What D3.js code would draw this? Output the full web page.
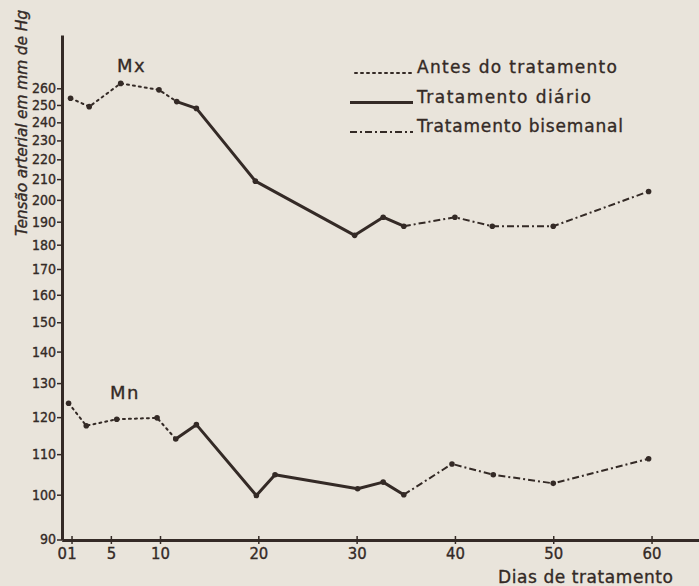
<!DOCTYPE html>
<html>
<head>
<meta charset="utf-8">
<script src="https://cdn.jsdelivr.net/npm/d3@7"></script>
<style>
  body { margin: 0; background: #e9e4db; }
  svg { display: block; }
  text { fill: #342a26; stroke: #342a26; stroke-width: 0.35px; font-family: "DejaVu Sans", sans-serif; }
  .tick text { font-family: "DejaVu Sans Condensed", "DejaVu Sans", sans-serif; }
</style>
</head>
<body>
<div class="chart"></div>
<script>
// days and pressure values (mm Hg)
const mxDays = [0.9, 2.8, 6, 9.9, 11.7, 13.7, 19.7, 29.8, 32.7, 34.8, 40, 43.8, 50, 59.7];
const mxValues = [254, 249, 263, 259, 252, 248, 209, 184, 192, 188, 192, 188, 188, 204];
const mnDays = [0.7, 2.5, 5.6, 9.7, 11.6, 13.7, 19.8, 21.7, 30.1, 32.7, 34.8, 39.7, 43.9, 50, 59.7];
const mnValues = [124, 117.6, 119.4, 119.8, 114, 117.9, 99.8, 104.8, 101.4, 103, 100, 107.5, 104.8, 102.7, 108.8];
// index ranges of each phase: antes / diario / bisemanal
const mxPhases = [[0, 4], [4, 9], [9, 13]];
const mnPhases = [[0, 4], [4, 10], [10, 14]];

const yTicks = [90, 100, 110, 120, 130, 140, 150, 160, 170, 180, 190, 200, 210, 220, 230, 240, 250, 260];
const xTicks = [0, 1, 5, 10, 20, 30, 40, 50, 60];
const legendKeys = ["Antes do tratamento", "Tratamento diário", "Tratamento bisemanal"];
const legendWidths = [200, 174, 206];

const ink = "#342a26";
const width = 699, height = 586;
const dashes = ["2,4", null, "7,3,2,3"];

const svg = d3.select(".chart").append("svg")
    .attr("width", width)
    .attr("height", height);

const xScale = d3.scaleLinear().domain([0, 65]).range([61.7, 700.7]);
const yScale = d3.scaleLog().domain([90, 294.7]).range([539.5, 35]);

// y axis
const yAxis = svg.append("g")
    .attr("transform", "translate(62,0)")
    .call(d3.axisLeft(yScale).tickValues(yTicks).tickSizeInner(5).tickSizeOuter(0).tickPadding(1).tickFormat(d3.format("d")));
yAxis.select(".domain").attr("stroke", ink).attr("stroke-width", 3);
yAxis.selectAll(".tick line").attr("stroke", ink).attr("stroke-width", 1.5);
yAxis.selectAll(".tick text").style("font-size", "14px").attr("fill", ink);

// x axis
const xAxis = svg.append("g")
    .attr("transform", "translate(0,540)")
    .call(d3.axisBottom(xScale).tickValues(xTicks).tickSizeInner(4).tickSizeOuter(0).tickPadding(3));
xAxis.select(".domain").attr("stroke", ink).attr("stroke-width", 3);
xAxis.selectAll(".tick line").attr("stroke", ink).attr("stroke-width", 1.5)
    .attr("y1", -4)
    .attr("display", d => d === 0 ? "none" : null);
xAxis.selectAll(".tick text").style("font-size", "16.5px").attr("fill", ink);

// axis titles
svg.append("text")
    .attr("transform", "translate(27,236) rotate(-90)")
    .style("font-size", "15.5px")
    .style("font-style", "italic")
    .attr("textLength", 226)
    .text("Tensão arterial em  mm de Hg");

svg.append("text")
    .attr("x", 498).attr("y", 583)
    .style("font-size", "17px")
    .attr("textLength", 175)
    .text("Dias de tratamento");

// series
const line = d3.line()
    .x(d => xScale(d.x))
    .y(d => yScale(d.y));

function drawSeries(days, values, phases) {
    const pts = days.map((d, i) => ({ x: d, y: values[i] }));
    phases.forEach((p, k) => {
        svg.append("path")
            .datum(pts.slice(p[0], p[1] + 1))
            .attr("d", line)
            .attr("fill", "none")
            .attr("stroke", ink)
            .attr("stroke-width", k === 1 ? 3 : 2)
            .attr("stroke-linecap", k === 0 ? "round" : "butt")
            .attr("stroke-linejoin", "round")
            .attr("stroke-dasharray", dashes[k]);
    });
    svg.append("g").selectAll("circle")
        .data(pts)
        .enter().append("circle")
        .attr("cx", d => xScale(d.x))
        .attr("cy", d => yScale(d.y))
        .attr("r", 2.8)
        .attr("fill", ink);
}
drawSeries(mxDays, mxValues, mxPhases);
drawSeries(mnDays, mnValues, mnPhases);

svg.append("text").attr("x", 117).attr("y", 72)
    .style("font-size", "18px").style("letter-spacing", "1.5px").text("Mx");
svg.append("text").attr("x", 110).attr("y", 399)
    .style("font-size", "18px").style("letter-spacing", "1.5px").text("Mn");

// legend
const legend = svg.selectAll(".legend").data(legendKeys)
    .enter().append("g")
    .attr("class", "legend")
    .attr("transform", (d, i) => "translate(350," + (73 + i * 29.5) + ")");

legend.append("line")
    .attr("x1", (d, i) => i === 0 ? 355 - 350 : 0)
    .attr("x2", 63)
    .attr("y1", 0).attr("y2", 0)
    .attr("stroke", ink)
    .attr("stroke-width", (d, i) => i === 1 ? 3 : 2)
    .attr("stroke-linecap", (d, i) => i === 0 ? "round" : "butt")
    .attr("stroke-dasharray", (d, i) => dashes[i]);

legend.append("text")
    .attr("x", 67)
    .attr("y", 0)
    .style("font-size", "17px")
    .attr("textLength", (d, i) => legendWidths[i])
    .text(d => d);
</script>
</body>
</html>
